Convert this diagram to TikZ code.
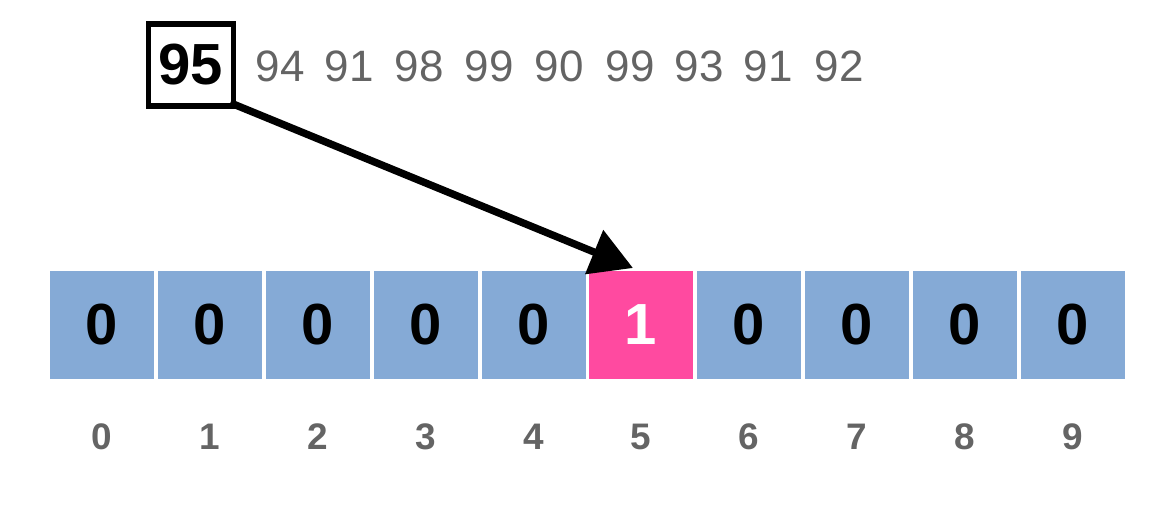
\documentclass[tikz,border=0pt]{standalone}
\usepackage{fontspec}
\setmainfont{Liberation Sans}
\usetikzlibrary{arrows.meta}
\definecolor{cellblue}{RGB}{133,170,214}
\definecolor{cellpink}{RGB}{255,74,160}
\definecolor{labelgray}{RGB}{100,100,100}
\tikzset{
  cell/.style={fill=cellblue, minimum width=1.045cm, minimum height=1.08cm, inner sep=0pt, font=\fontsize{16.5}{18}\selectfont\bfseries},
  hitcell/.style={cell, fill=cellpink, text=white},
  idx/.style={text=labelgray, font=\fontsize{10.5}{12}\selectfont\bfseries},
  seq/.style={text=labelgray, font=\fontsize{12.5}{14}\selectfont},
}

\begin{document}
\begin{tikzpicture}[x=0.01cm, y=-0.01cm]
			\useasboundingbox (0,0) rectangle (1168,508);
			% the number being inserted
			\node at (191,65)[draw, line width=1.6pt, minimum width=0.85cm, minimum height=0.82cm, inner sep=0pt, font=\fontsize{16.5}{18}\selectfont\bfseries] (n95) {95};
			\node at (280,66)[seq] (s1) {94};
			\node at (349,66)[seq] (s2) {91};
			\node at (419,66)[seq] (s3) {98};
			\node at (489,66)[seq] (s4) {99};
			\node at (559,66)[seq] (s5) {90};
			\node at (630,66)[seq] (s6) {99};
			\node at (699,66)[seq] (s7) {93};
			\node at (768,66)[seq] (s8) {91};
			\node at (839,66)[seq] (s9) {92};
			% the bit array
			\node at (102,325)[cell] (c0) {0};
			\node at (210,325)[cell] (c1) {0};
			\node at (318,325)[cell] (c2) {0};
			\node at (426,325)[cell] (c3) {0};
			\node at (534,325)[cell] (c4) {0};
			\node at (641,325)[hitcell] (c5) {1};
			\node at (749,325)[cell] (c6) {0};
			\node at (857,325)[cell] (c7) {0};
			\node at (965,325)[cell] (c8) {0};
			\node at (1073,325)[cell] (c9) {0};
			% indices
			\node at (102,437)[idx] (i0) {0};
			\node at (210,437)[idx] (i1) {1};
			\node at (318,437)[idx] (i2) {2};
			\node at (426,437)[idx] (i3) {3};
			\node at (534,437)[idx] (i4) {4};
			\node at (641,437)[idx] (i5) {5};
			\node at (749,437)[idx] (i6) {6};
			\node at (857,437)[idx] (i7) {7};
			\node at (965,437)[idx] (i8) {8};
			\node at (1073,437)[idx] (i9) {9};
			\coordinate (tip) at (633,268);
			\draw[line width=2.1pt, -{Triangle[length=0.42cm, width=0.46cm]}] ([shift={(-6,-6)}]n95.south east) -- (tip);
		\end{tikzpicture}
\end{document}
